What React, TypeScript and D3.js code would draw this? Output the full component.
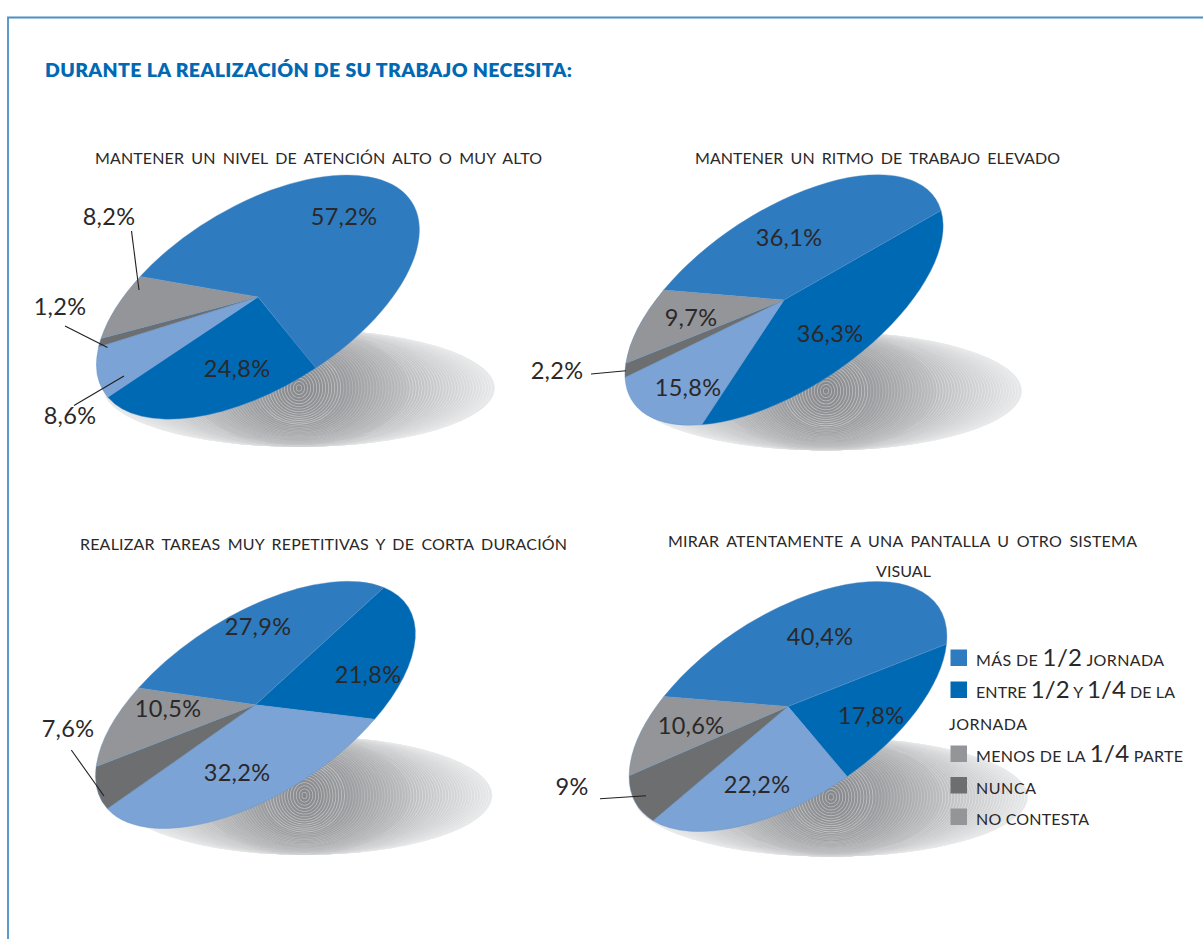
import React from "react";
import * as d3 from "d3";

// Answer categories, in the clockwise order of the slices
const categories = ["Más de 1/2 jornada", "Entre 1/2 y 1/4 de la jornada", "Menos de la 1/4 parte", "Nunca", "No contesta"];

// Percentages per question, same order as categories
const atencionValues = [57.2, 24.8, 8.6, 1.2, 8.2];
const ritmoValues = [36.1, 36.3, 15.8, 2.2, 9.7];
const repetitivasValues = [27.9, 21.8, 32.2, 7.6, 10.5];
const pantallaValues = [40.4, 17.8, 22.2, 9, 10.6];

const sliceColors = ["#2e7bbf", "#0069b4", "#7ba3d6", "#6d6e70", "#939598"];
const legendColors = ["#2e7bbf", "#0069b4", "#939598", "#6d6e70", "#939598"];
const INK = "#2a2829";
const FONT = "Lato, 'Open Sans', sans-serif";

const formatPct = (v: number) => `${String(v).replace(".", ",")}%`;

type Label = { at: [number, number]; leader?: [number, number, number, number] };
type PieLayout = {
  values: number[];
  cx: number; cy: number; a: number; b: number; tilt: number; startDeg: number;
  shadow: { cx: number; cy: number; rx: number; ry: number };
  labels: Label[];
  titles: { text: string; x: number; y: number; w: number }[];
};

const pies: PieLayout[] = [
  {
    values: atencionValues,
    cx: 258, cy: 297, a: 181, b: 91, tilt: -31.4, startDeg: -29.8,
    shadow: { cx: 299, cy: 388, rx: 196, ry: 59 },
    labels: [
      { at: [344, 225] },
      { at: [237, 377] },
      { at: [70, 424], leader: [74, 405.5, 124, 376] },
      { at: [60, 315], leader: [65, 326, 107.5, 347.5] },
      { at: [109, 225], leader: [131.5, 231, 139, 290] },
    ],
    titles: [{ text: "MANTENER UN NIVEL DE ATENCIÓN ALTO O MUY ALTO", x: 95, y: 164, w: 447 }],
  },
  {
    values: ritmoValues,
    cx: 784, cy: 300, a: 182.3, b: 88.2, tilt: -33.9, startDeg: -31.2,
    shadow: { cx: 826, cy: 391, rx: 196, ry: 59.5 },
    labels: [
      { at: [789, 246] },
      { at: [830, 342] },
      { at: [688, 396] },
      { at: [557, 379], leader: [591, 374, 626, 370.7] },
      { at: [691, 326] },
    ],
    titles: [{ text: "MANTENER UN RITMO DE TRABAJO ELEVADO", x: 695, y: 164, w: 365 }],
  },
  {
    values: repetitivasValues,
    cx: 255.5, cy: 704.8, a: 181.4, b: 89.1, tilt: -32.8, startDeg: -29.5,
    shadow: { cx: 304.5, cy: 795.5, rx: 188, ry: 59.5 },
    labels: [
      { at: [258, 635] },
      { at: [368, 683] },
      { at: [237, 781] },
      { at: [68, 737], leader: [71.3, 750, 104, 796] },
      { at: [168, 717] },
    ],
    titles: [{ text: "REALIZAR TAREAS MUY REPETITIVAS Y DE CORTA DURACIÓN", x: 80, y: 550, w: 487 }],
  },
  {
    values: pantallaValues,
    cx: 788, cy: 706.5, a: 180.5, b: 91.2, tilt: -33.3, startDeg: -33,
    shadow: { cx: 831, cy: 797, rx: 197, ry: 59.7 },
    labels: [
      { at: [820, 645] },
      { at: [871, 724] },
      { at: [757, 793] },
      { at: [572, 795], leader: [600, 798.7, 646, 795.7] },
      { at: [691, 734] },
    ],
    titles: [
      { text: "MIRAR ATENTAMENTE A UNA PANTALLA U OTRO SISTEMA", x: 668, y: 547, w: 469 },
      { text: "VISUAL", x: 876, y: 577, w: 55 },
    ],
  },
];

const RING_COUNT = 65;
const ringTint = d3
  .scaleLinear<string>()
  .domain([0, 0.25, 0.6, 1])
  .range(["#858689", "#9c9da0", "#c0c1c3", "#e6e7e8"]);

// How far the thin light stripes stand out in each band of the blend
const stripeStrength = (t: number) => (t < 0.22 ? 0.42 : t < 0.56 ? 0.24 : 0.4);

// Concentric blend: starts round at the middle, flattens into the outer ellipse.
// Every step is a light ellipse with a slightly smaller tinted one on top.
function ShadowDisc({ cx, cy, rx, ry }: PieLayout["shadow"]) {
  const steps = d3.range(RING_COUNT, 0, -1).map((i) => i / RING_COUNT);
  const height = (t: number) => ry * (1 - Math.pow(1 - t, 4));
  return (
    <g>
      {steps.map((t) => {
        const tint = ringTint(t);
        const inset = 0.8;
        return (
          <g key={t}>
            <ellipse
              cx={cx}
              cy={cy}
              rx={rx * t}
              ry={height(t)}
              fill={d3.interpolateRgb(tint, "#fff")(stripeStrength(t))}
            />
            <ellipse
              cx={cx}
              cy={cy}
              rx={Math.max(rx * t - inset, 0)}
              ry={Math.max(height(t) - inset * Math.min(1, (height(t) - height(t - 1 / RING_COUNT)) / 1.5), 0)}
              fill={tint}
            />
          </g>
        );
      })}
    </g>
  );
}

function TiltedPie({ p }: { p: PieLayout }) {
  const start = (p.startDeg * Math.PI) / 180;
  const arcs = d3
    .pie<number>()
    .sort(null)
    .startAngle(start)
    .endAngle(start + 2 * Math.PI)(p.values);
  const wedge = d3.arc<d3.PieArcDatum<number>>().innerRadius(0).outerRadius(1);
  return (
    <g>
      <ShadowDisc {...p.shadow} />
      <g transform={`translate(${p.cx},${p.cy}) rotate(${p.tilt}) scale(${p.a},${p.b})`}>
        {arcs.map((d, i) => (
          <path
            key={categories[i]}
            d={wedge(d) ?? ""}
            fill={sliceColors[i]}
            stroke="#5f93c6"
            strokeWidth={0.4}
            vectorEffect="non-scaling-stroke"
          />
        ))}
      </g>
      {p.labels.map((l, i) =>
        l.leader ? (
          <line
            key={i}
            x1={l.leader[0]}
            y1={l.leader[1]}
            x2={l.leader[2]}
            y2={l.leader[3]}
            stroke="#231f20"
            strokeWidth={1.1}
          />
        ) : null
      )}
      {p.labels.map((l, i) => (
        <text
          key={i}
          x={l.at[0]}
          y={l.at[1]}
          textAnchor="middle"
          fontFamily={FONT}
          fontSize={23.5}
          fontWeight={400}
          letterSpacing={0.3}
          fill={INK}
        >
          {formatPct(p.values[i])}
        </text>
      ))}
      {p.titles.map((t) => (
        <text
          key={t.text}
          x={t.x}
          y={t.y}
          fontFamily={FONT}
          fontSize={16}
          fontWeight={400}
          fill={INK}
          textLength={t.w}
          lengthAdjust="spacing"
          wordSpacing={3}
        >
          {t.text}
        </text>
      ))}
    </g>
  );
}

// Legend rows: small capitals with the fractions set larger
const Big = ({ children }: { children: string }) => <tspan fontSize={24}>{children}</tspan>;

const legendRows = [
  { y: 666, swatch: 0, w: 188, body: (<>MÁS DE <Big>1/2</Big> JORNADA</>) },
  { y: 698, swatch: 1, w: 199, body: (<>ENTRE <Big>1/2</Big> Y <Big>1/4</Big> DE LA</>) },
  { y: 762, swatch: 2, w: 207, body: (<>MENOS DE LA <Big>1/4</Big> PARTE</>) },
  { y: 793.5, swatch: 3, w: 60, body: (<>NUNCA</>) },
  { y: 825, swatch: 4, w: 113, body: (<>NO CONTESTA</>) },
];

export default function App() {
  return (
    <svg
      width={1203}
      height={939}
      viewBox="0 0 1203 939"
      style={{ position: "absolute", left: 0, top: 0, display: "block", background: "#fff" }}
    >
      <path d="M1203,17.5H8V939" fill="none" stroke="#4a90c8" strokeWidth={1.8} />
      <text x={45} y={77} fontFamily={FONT} fontSize={19.5} fontWeight={800} fill="#0069b4" textLength={527} lengthAdjust="spacing">
        DURANTE LA REALIZACIÓN DE SU TRABAJO NECESITA:
      </text>

      {pies.map((p) => (
        <TiltedPie key={p.titles[0].text} p={p} />
      ))}

      {legendRows.map((r) => (
        <g key={r.y}>
          <rect x={950.5} y={r.y - 16.5} width={16.5} height={16.5} fill={legendColors[r.swatch]} />
          <text x={976} y={r.y} fontFamily={FONT} fontSize={16} fontWeight={400} fill={INK} textLength={r.w} lengthAdjust="spacing">
            {r.body}
          </text>
        </g>
      ))}
      <text x={949} y={730} fontFamily={FONT} fontSize={16} fontWeight={400} fill={INK} textLength={78} lengthAdjust="spacing">
        JORNADA
      </text>
    </svg>
  );
}
